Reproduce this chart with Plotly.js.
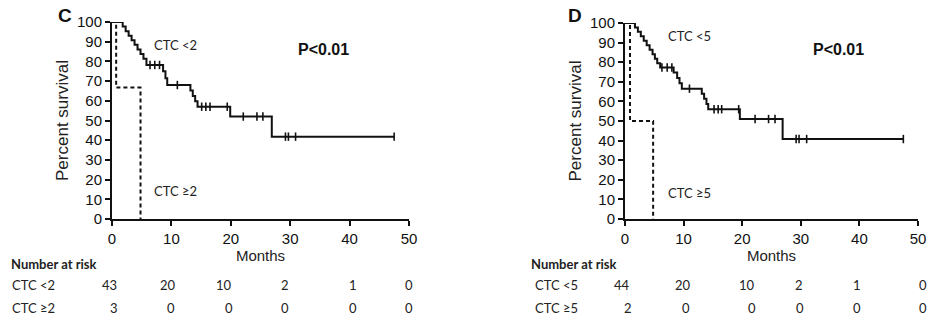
<!DOCTYPE html>
<html>
<head>
<meta charset="utf-8">
<script src="https://cdn.plot.ly/plotly-3.0.1.min.js"></script>
<style>html,body{margin:0;padding:0;background:#fff;}#chart{width:931px;height:322px;}</style>
</head>
<body>
<div id="chart"></div>
<script>
// ---- Panel C data ----
const cLowTime = [0, 1.8, 2.3, 2.8, 3.3, 3.8, 4.3, 4.8, 5.3, 5.8, 8.6, 9.0, 9.3, 13.2, 13.6, 14.0, 14.4, 19.9, 26.9, 47.5];
const cLowSurv = [100, 97.7, 95.3, 93.0, 90.7, 88.4, 86.0, 83.7, 81.4, 78.2, 75.0, 71.5, 68.0, 65.2, 62.5, 59.8, 57.0, 52.0, 41.8, 41.8];
const cLowCensTime = [6.4, 7.2, 8.0, 11.0, 15.1, 15.8, 16.5, 19.4, 22.1, 24.4, 25.4, 29.2, 29.7, 30.9, 47.5];
const cLowCensSurv = [78.2, 78.2, 78.2, 68.0, 57.0, 57.0, 57.0, 57.0, 52.0, 52.0, 52.0, 41.8, 41.8, 41.8, 41.8];
const cHighTime = [0, 0.7, 4.8];
const cHighSurv = [100, 66.7, 0];

// ---- Panel D data ----
const dLowTime = [0, 1.7, 2.2, 2.7, 3.2, 3.7, 4.2, 4.7, 5.1, 5.5, 6.0, 8.3, 8.9, 9.3, 9.7, 13.1, 13.5, 13.9, 14.2, 19.6, 26.9, 47.5];
const dLowSurv = [100, 97.7, 95.5, 93.2, 90.9, 88.6, 86.4, 84.1, 81.8, 79.5, 77.3, 74.7, 72.0, 69.3, 66.5, 63.9, 61.3, 58.7, 56.0, 51.0, 40.8, 40.8];
const dLowCensTime = [6.3, 7.2, 8.0, 11.0, 15.2, 15.9, 16.5, 19.4, 22.2, 24.5, 25.6, 29.2, 29.7, 31.0, 47.5];
const dLowCensSurv = [77.3, 77.3, 77.3, 66.5, 56.0, 56.0, 56.0, 56.0, 51.0, 51.0, 51.0, 40.8, 40.8, 40.8, 40.8];
const dHighTime = [0, 0.85, 4.8];
const dHighSurv = [100, 50, 0];

// ---- Axis ticks ----
const xTicks = [0, 10, 20, 30, 40, 50];
const yTicks = [0, 10, 20, 30, 40, 50, 60, 70, 80, 90, 100];

// ---- Number at risk ----
const riskMonths = [0, 10, 20, 30, 40, 50];
const cRiskLow = [43, 20, 10, 2, 1, 0];
const cRiskHigh = [3, 0, 0, 0, 0, 0];
const dRiskLow = [44, 20, 10, 2, 1, 0];
const dRiskHigh = [2, 0, 0, 0, 0, 0];
const cGroupLabels = ['CTC <2', 'CTC \u22652'];
const dGroupLabels = ['CTC <5', 'CTC \u22655'];

const W = 931, H = 322;
const px = v => v / W;
const py = v => 1 - v / H;

function curve(x, y, xa, ya, dash) {
  return {x: x, y: y, xaxis: xa, yaxis: ya, type: 'scatter', mode: 'lines',
    line: {shape: 'hv', color: '#111', width: 2, dash: dash || 'solid'},
    cliponaxis: false, hoverinfo: 'skip', showlegend: false};
}
function cens(x, y, xa, ya) {
  return {x: x, y: y, xaxis: xa, yaxis: ya, type: 'scatter', mode: 'markers',
    marker: {symbol: 'line-ns-open', size: 6, color: '#111', line: {color: '#111', width: 1.6}},
    cliponaxis: false, hoverinfo: 'skip', showlegend: false};
}

const traces = [
  curve(cHighTime, cHighSurv, 'x', 'y', '4px,3px'),
  curve(cLowTime, cLowSurv, 'x', 'y'),
  cens(cLowCensTime, cLowCensSurv, 'x', 'y'),
  curve(dHighTime, dHighSurv, 'x2', 'y2', '4px,3px'),
  curve(dLowTime, dLowSurv, 'x2', 'y2'),
  cens(dLowCensTime, dLowCensSurv, 'x2', 'y2')
];

const tickFont = {family: 'Liberation Sans, Arial, sans-serif', size: 15, color: '#111'};
function xax(domain, anchor) {
  return {domain: domain, anchor: anchor, range: [0, 50], tickvals: xTicks, ticktext: xTicks.map(String),
    ticks: 'outside', ticklen: 5, tickwidth: 2, tickcolor: '#111', showline: true, linewidth: 2, linecolor: '#111',
    showgrid: false, zeroline: false, tickfont: tickFont,
    title: {text: 'Months', font: {family: 'Liberation Sans, Arial, sans-serif', size: 15, color: '#222'}, standoff: 1}};
}
function yax(domain, anchor) {
  return {domain: domain, anchor: anchor, range: [0, 100], tickvals: yTicks, ticktext: yTicks.map(String),
    ticks: 'outside', ticklen: 5, tickwidth: 2, tickcolor: '#111', showline: true, linewidth: 2, linecolor: '#111',
    showgrid: false, zeroline: false, tickfont: tickFont,
    title: {text: 'Percent survival', font: {family: 'Liberation Sans, Arial, sans-serif', size: 17, color: '#222'}, standoff: 4}};
}

const lato = 'Lato, Open Sans, sans-serif';
const annotations = [];
function txt(x, y, text, opts) {
  annotations.push(Object.assign({x: x, y: y, xref: 'paper', yref: 'paper', text: text, showarrow: false,
    xanchor: 'center', yanchor: 'middle', font: {family: lato, size: 13, color: '#222'}}, opts || {}));
}
// Panel letters
txt(px(65), py(15), '<b>C</b>', {font: {family: 'Liberation Sans, Arial, sans-serif', size: 19, color: '#111'}});
txt(px(575), py(16), '<b>D</b>', {font: {family: 'Liberation Sans, Arial, sans-serif', size: 19, color: '#111'}});
// Curve labels
txt(px(152), py(45), cGroupLabels[0], {xanchor: 'left'});
txt(px(152), py(191), cGroupLabels[1], {xanchor: 'left'});
txt(px(666), py(36), dGroupLabels[0], {xanchor: 'left'});
txt(px(666), py(193), dGroupLabels[1], {xanchor: 'left'});
// P values
txt(px(323), py(50), '<b>P&lt;0.01</b>', {font: {family: 'Liberation Sans, Arial, sans-serif', size: 16, color: '#111'}});
txt(px(838), py(50), '<b>P&lt;0.01</b>', {font: {family: 'Liberation Sans, Arial, sans-serif', size: 16, color: '#111'}});
// Number at risk tables
txt(px(9), py(264), '<b>Number at risk</b>', {xanchor: 'left'});
txt(px(529), py(264), '<b>Number at risk</b>', {xanchor: 'left'});
txt(px(10), py(285), cGroupLabels[0], {xanchor: 'left'});
txt(px(10), py(308), cGroupLabels[1], {xanchor: 'left'});
txt(px(533), py(285), dGroupLabels[0], {xanchor: 'left'});
txt(px(533), py(308), dGroupLabels[1], {xanchor: 'left'});

const cShiftLow = [-3, -3, -7, -5, 3, 0];
const cShiftHigh = [2, 0, -2, -5, 3, 0];
const dShiftLow = [-3, -1, 5, -2, -2, 5];
const dShiftHigh = [3, 2, 10, -1, -2, 5];
function num(m, y, xref, text, shift) {
  annotations.push({x: m, y: y, xref: xref, yref: 'paper', text: text, showarrow: false,
    xanchor: 'center', yanchor: 'middle', xshift: shift, font: {family: lato, size: 13, color: '#222'}});
}
riskMonths.forEach((m, i) => {
  num(m, py(285), 'x', String(cRiskLow[i]), cShiftLow[i]);
  num(m, py(308), 'x', String(cRiskHigh[i]), cShiftHigh[i]);
  num(m, py(285), 'x2', String(dRiskLow[i]), dShiftLow[i]);
  num(m, py(308), 'x2', String(dRiskHigh[i]), dShiftHigh[i]);
});

const layout = {
  width: W, height: H,
  margin: {l: 0, r: 0, t: 0, b: 0},
  paper_bgcolor: '#fff', plot_bgcolor: '#fff',
  showlegend: false,
  xaxis: xax([px(112), px(409)], 'y'),
  yaxis: yax([py(219), py(22)], 'x'),
  xaxis2: xax([px(625), px(918)], 'y2'),
  yaxis2: yax([py(219), py(23)], 'x2'),
  annotations: annotations
};

Plotly.newPlot('chart', traces, layout, {displayModeBar: false, staticPlot: true});
</script>
</body>
</html>
